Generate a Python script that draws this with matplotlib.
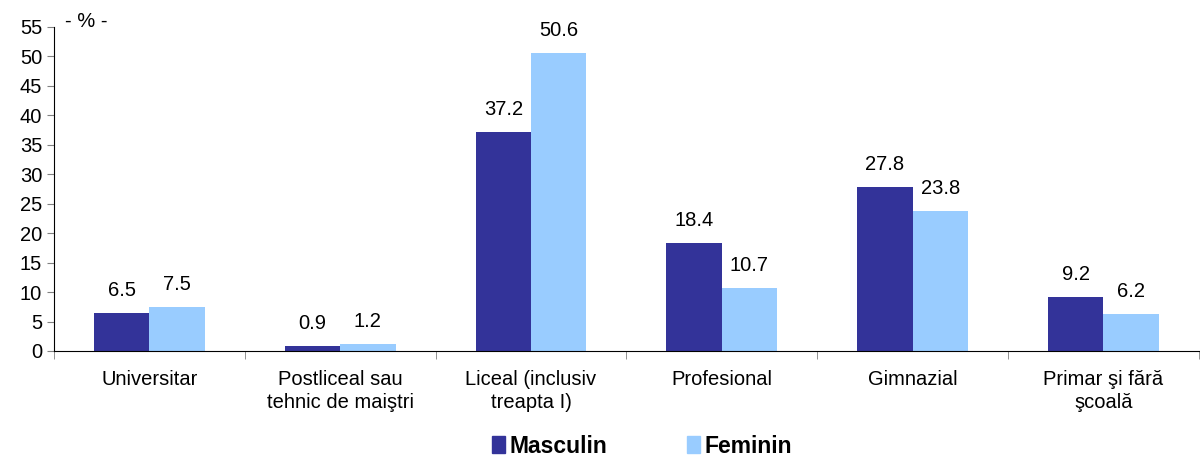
import matplotlib.pyplot as plt
import numpy as np
from matplotlib.patches import Patch

plt.rcParams['font.family'] = ['Liberation Sans', 'DejaVu Sans']

categories = ['Universitar', 'Postliceal sau\ntehnic de maiştri', 'Liceal (inclusiv\ntreapta I)',
              'Profesional', 'Gimnazial', 'Primar şi fără\nşcoală']
masculin = [6.5, 0.9, 37.2, 18.4, 27.8, 9.2]
feminin = [7.5, 1.2, 50.6, 10.7, 23.8, 6.2]

dark = '#333399'
light = '#99ccff'
fs = 14.5

fig = plt.figure(figsize=(12, 4.57), dpi=100)
ax = fig.add_axes([0.045, 0.232, 0.954, 0.709])

x = np.arange(len(categories))
w = 0.29
b1 = ax.bar(x - w / 2, masculin, w, color=dark)
b2 = ax.bar(x + w / 2, feminin, w, color=light)

for bars, vals in ((b1, masculin), (b2, feminin)):
    for r, v in zip(bars, vals):
        ax.text(r.get_x() + r.get_width() / 2, v + 2.2, f'{v:.1f}',
                ha='center', va='bottom', fontsize=fs)

ax.set_xlim(-0.5, len(categories) - 0.5)
ax.set_ylim(0, 55)
ax.set_yticks(range(0, 56, 5))
ax.set_xticks(x)
ax.set_xticklabels(categories, fontsize=fs, linespacing=1.25)
ax.tick_params(axis='x', length=0, pad=14)
ax.set_xticks(np.arange(-0.5, len(categories)), minor=True)
ax.tick_params(axis='x', which='minor', length=6, direction='out', color='#808080')
ax.tick_params(axis='y', labelsize=fs, length=5, color='#808080')

for s in ('top', 'right'):
    ax.spines[s].set_visible(False)

fig.text(0.054, 0.953, '- % -', fontsize=fs, ha='left', va='center')

handles = [Patch(color=dark, label='Masculin'), Patch(color=light, label='Feminin')]
fig.legend(handles=handles, loc='center', bbox_to_anchor=(0.535, 0.024), ncol=2, frameon=False,
           prop={'weight': 'bold', 'size': 16.5}, handlelength=0.55, handleheight=0.8,
           handletextpad=0.2, columnspacing=3.5)

fig.savefig('out.png', dpi=100)
